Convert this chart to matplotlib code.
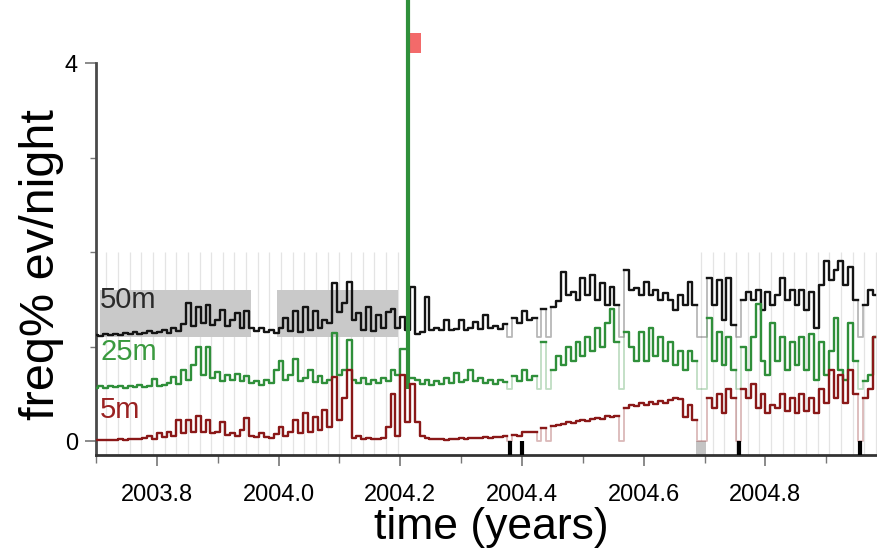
import numpy as np
import matplotlib
matplotlib.use("Agg")
import matplotlib.pyplot as plt
from matplotlib.patches import Rectangle

plt.rcParams["font.family"] = ["Liberation Sans", "DejaVu Sans"]

# nightly event rate (freq %), one sample every DT years from T0
T0 = 2003.700
DT = 0.008

rate_50m = [
    0.02, 0.01, 0.03, 0.02, 0.03, 0.02, 0.04, 0.03, 0.05, 0.03, 0.04, 0.06, 0.04,
    0.05, 0.08, 0.04, 0.10, 0.06, 0.14,
    0.36, 0.12, 0.32, 0.15, 0.34, 0.13, 0.18, 0.29, 0.12, 0.18, 0.25, 0.10, 0.28,
    0.10, 0.06, 0.10, 0.05, 0.08, 0.04, 0.10,
    0.20, 0.06, 0.28, 0.05, 0.32, 0.08, 0.28, 0.10, 0.18, 0.15,
    0.57, 0.26, 0.36, 0.58, 0.18, 0.25, 0.08, 0.32, 0.06, 0.23, 0.10, 0.26, 0.30, 0.10, 0.21, 0.08,
    0.53, 0.03, 0.05, 0.42, 0.08, 0.10, 0.07, 0.18, 0.07, 0.09, 0.18, 0.08, 0.10, 0.16, 0.09, 0.23,
    0.10, 0.12, 0.09, 0.14,
    0.00,
    0.20, 0.15, 0.28, 0.18, 0.20,
    0.00, 0.30, 0.00,
    0.32, 0.38, 0.69, 0.44, 0.48, 0.39, 0.62, 0.44, 0.66, 0.39, 0.57, 0.34, 0.53, 0.34,
    0.00,
    0.71, 0.50, 0.52, 0.44, 0.58, 0.44, 0.50, 0.39, 0.47, 0.39, 0.29, 0.44, 0.34, 0.58, 0.34,
    0.00, 0.00,
    0.62, 0.34, 0.60, 0.18, 0.62, 0.13,
    0.00,
    0.39, 0.48, 0.39, 0.50, 0.29, 0.48, 0.34,
    0.45, 0.63, 0.39, 0.50, 0.34, 0.50, 0.29, 0.48, 0.10, 0.55, 0.81, 0.60, 0.71, 0.81, 0.55, 0.74, 0.39,
    0.00,
    0.34, 0.50, 0.44,
]

rate_25m = [
    0.01, 0.03, 0.01, 0.03, 0.02, 0.03, 0.01, 0.03, 0.02, 0.04, 0.02, 0.03,
    0.11, 0.03, 0.04, 0.06, 0.13, 0.05, 0.20, 0.10, 0.25,
    0.44, 0.15, 0.44, 0.12, 0.18, 0.08, 0.15, 0.10, 0.16, 0.08, 0.14, 0.06, 0.09, 0.04, 0.10, 0.06,
    0.20, 0.30, 0.10, 0.15, 0.32, 0.08, 0.12, 0.20, 0.07, 0.14, 0.06, 0.10,
    0.59, 0.15, 0.20, 0.52, 0.10, 0.06, 0.12, 0.05, 0.10, 0.06, 0.12, 0.08, 0.20, 0.15, 0.42,
    7.00,
    0.12, 0.10, 0.05, 0.10, 0.04, 0.08, 0.05, 0.12, 0.06, 0.17, 0.07, 0.10, 0.20, 0.08, 0.12, 0.06,
    0.10, 0.05, 0.10, 0.07,
    0.00,
    0.14, 0.08, 0.20, 0.10, 0.14,
    0.00, 0.50, 0.00,
    0.20, 0.35, 0.25, 0.45, 0.30, 0.50, 0.35, 0.55, 0.40, 0.65, 0.45, 0.70, 0.85, 0.50,
    0.00,
    0.60, 0.45, 0.30, 0.60, 0.30, 0.65, 0.35, 0.55, 0.30, 0.50, 0.25, 0.40, 0.20, 0.40, 0.30,
    0.00, 0.00,
    0.75, 0.30, 0.60, 0.25, 0.55, 0.20,
    0.00,
    0.45, 0.20, 0.55, 0.90, 0.30, 0.15, 0.70, 0.30, 0.55, 0.20, 0.50, 0.25, 0.55, 0.20, 0.58, 0.10,
    0.50, 0.15, 0.40, 0.75, 0.20, 0.10, 0.70, 0.30,
    0.00,
    0.08, 0.15, 0.55,
]

rate_5m = [
    0.01, 0.01, 0.01, 0.01, 0.01, 0.02, 0.01, 0.02, 0.02, 0.02,
    0.03, 0.05, 0.02, 0.08, 0.04, 0.10, 0.05, 0.22, 0.08, 0.22, 0.10, 0.27, 0.10, 0.22, 0.08, 0.10,
    0.20, 0.06, 0.08, 0.05, 0.12, 0.24,
    0.05, 0.04, 0.08, 0.04, 0.03, 0.07, 0.15, 0.05, 0.10, 0.22, 0.08, 0.30, 0.10, 0.25, 0.12, 0.33, 0.15,
    0.68, 0.22, 0.45, 0.75, 0.03, 0.05, 0.02, 0.03, 0.02, 0.02, 0.03, 0.15, 0.50, 0.05, 0.70, 0.20,
    0.60, 0.20, 0.05, 0.03,
    0.02, 0.02, 0.02, 0.01, 0.02, 0.02, 0.03, 0.02, 0.03, 0.03, 0.03, 0.04, 0.03, 0.04, 0.04, 0.05,
    0.00,
    0.06, 0.05, 0.10, 0.10, 0.10,
    0.00, 0.14, 0.00,
    0.16, 0.17, 0.18, 0.20, 0.19, 0.21, 0.22, 0.21, 0.23, 0.24, 0.23, 0.26, 0.25, 0.27,
    0.00,
    0.35, 0.38, 0.37, 0.40, 0.38, 0.41, 0.39, 0.42, 0.40, 0.43, 0.46, 0.44, 0.25, 0.38, 0.22,
    0.00, 0.00,
    0.45, 0.35, 0.50, 0.30, 0.55, 0.45,
    0.00,
    0.55, 0.45, 0.60, 0.35, 0.50, 0.30, 0.38, 0.35, 0.50, 0.32, 0.45, 0.30, 0.50, 0.32, 0.45, 0.30,
    0.55, 0.40, 0.75, 0.45, 0.70, 0.40, 0.75, 0.50,
    0.00,
    0.45, 0.55, 1.10,
]

# nights without data (drawn faint)
gap_nights = [2004.380, 2004.428, 2004.444, 2004.564, 2004.692, 2004.700, 2004.756, 2004.956]
# missing-night markers on the time axis
missing_marks = [2004.380, 2004.400, 2004.756, 2004.956]
downtime = (2004.686, 2004.703)
# dark-time shading behind the 50 m trace
dark_spans = [(2003.707, 2003.954), (2003.997, 2004.196)]
event_span = (2004.209, 2004.234)

series = [
    ("50m", rate_50m, 1.10, "#141414", "#2a2a2a", 1.49, 3),
    ("25m", rate_25m, 0.55, "#2f8f3a", "#3a9a3f", 0.94, 4),
    ("5m", rate_5m, 0.00, "#8a1818", "#9a2222", 0.33, 5),
]

YMIN, YMAX = -0.148, 4.667
XMIN, XMAX = 2003.7, 2004.985

fig = plt.figure(figsize=(8.78, 5.54), dpi=100)
ax = fig.add_axes([96 / 878, 99 / 554, 782 / 878, 455 / 554])
ax.set_xlim(XMIN, XMAX)
ax.set_ylim(YMIN, YMAX)

# weekly guide lines during the two campaigns
week = 7 / 365.25
weeks = np.arange(2004.790 - 57 * week, XMAX, week)
weeks = weeks[((weeks > 2003.705) & (weeks < 2004.215)) | (weeks > 2004.680)]
ax.vlines(weeks, YMIN, 2.0, color="#e4e4e4", lw=0.9, zorder=0)

for x0, x1 in dark_spans:
    ax.fill_between([x0, x1], 1.1, 1.6, color="#c9c9c9", lw=0, zorder=0.5)

ax.fill_between(list(downtime), YMIN, 0.0, color="#c4c4c4", lw=0, zorder=1)
ax.vlines(missing_marks, YMIN, 0.0, color="black", lw=3, zorder=6)

ax.add_patch(Rectangle((event_span[0], 4.106), event_span[1] - event_span[0], 0.211,
                       facecolor="#f25a5a", edgecolor="none", alpha=0.9, zorder=2))

for name, vals, off, col, tcol, ty, z in series:
    v = np.asarray(vals, dtype=float)
    t = T0 + DT * np.arange(len(v))
    gap = np.isclose(t[:, None], np.array(gap_nights)[None, :], rtol=0, atol=1e-4).any(axis=1)
    off_scale = v + off > YMAX
    y = np.where(off_scale, np.nan, v + off)
    ax.plot(t, y, drawstyle="steps-mid", color=col, alpha=0.3, lw=1.3, zorder=z - 0.5)
    ax.plot(t, np.where(gap, np.nan, y), drawstyle="steps-mid", color=col, lw=1.7, zorder=z)
    # nights beyond the plotted range run off the top as a single bar
    ax.vlines(t[off_scale], off, YMAX, color=col, lw=3, zorder=z)
    ax.text(2003.7066, ty, name, color=tcol, fontsize=21, ha="left", va="center", zorder=7)

for s in ["top", "right"]:
    ax.spines[s].set_visible(False)
ax.spines["left"].set_bounds(YMIN, 4.0)
ax.spines["left"].set_color("#4a4a4a")
ax.spines["left"].set_linewidth(2)
ax.spines["bottom"].set_color("#333333")
ax.spines["bottom"].set_linewidth(2)

ax.set_yticks([0, 4])
ax.set_yticks([1, 2, 3], minor=True)
ax.set_xticks([2003.8, 2004.0, 2004.2, 2004.4, 2004.6, 2004.8])
ax.set_xticklabels(["2003.8", "2004.0", "2004.2", "2004.4", "2004.6", "2004.8"])
ax.set_xticks(np.arange(2003.7, 2004.95, 0.1), minor=True)
ax.tick_params(axis="y", which="major", length=8, width=1.2, color="#777777",
               labelsize=17, pad=5)
ax.tick_params(axis="y", which="minor", length=4, width=1.0, color="#777777")
ax.tick_params(axis="x", which="major", length=8, width=1.2, color="#777777",
               labelsize=17, pad=13)
ax.tick_params(axis="x", which="minor", length=6, width=1.0, color="#777777")

fig.text(42 / 878, 1 - 265 / 554, "freq% ev/night", rotation=90, fontsize=35,
         ha="center", va="center")
fig.text(491 / 878, 1 - 528 / 554, "time (years)", fontsize=32, ha="center", va="center")

fig.savefig("out.png", dpi=100)
